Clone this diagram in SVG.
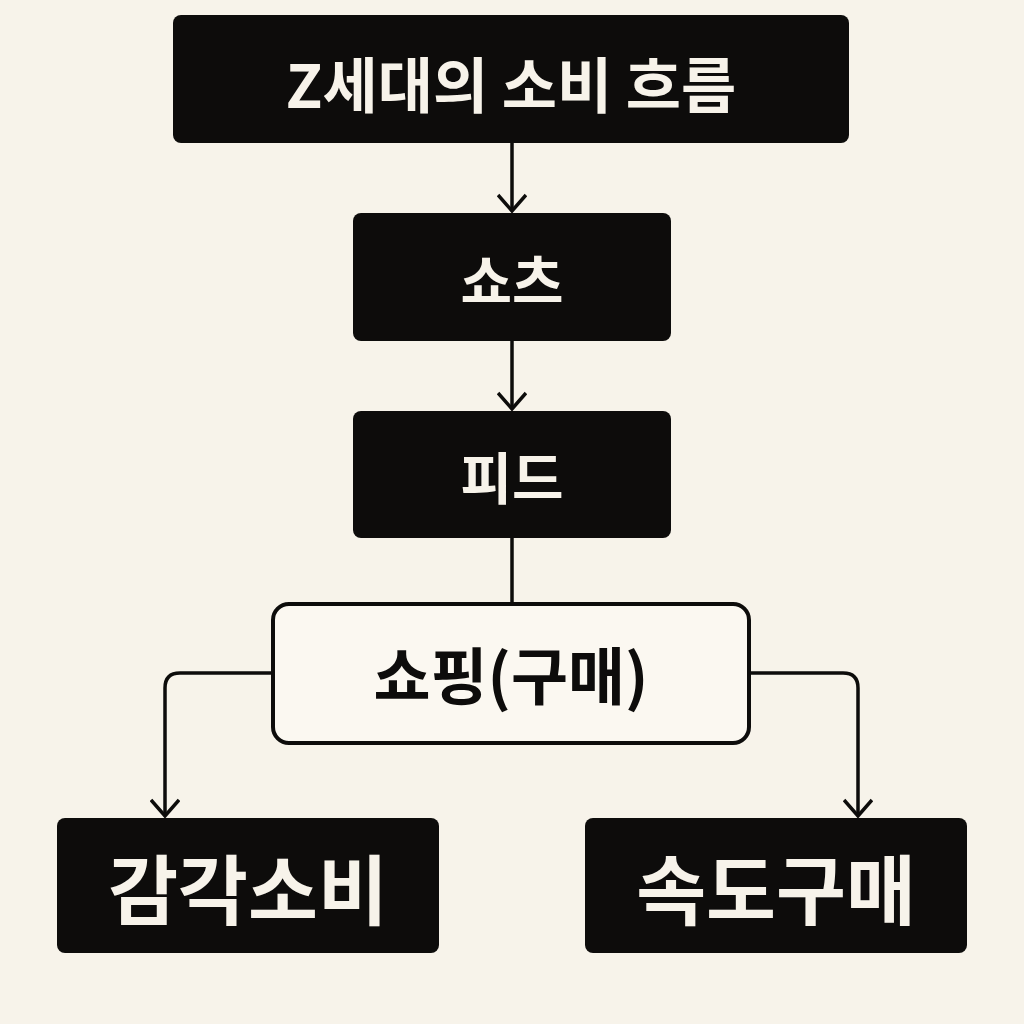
<svg xmlns="http://www.w3.org/2000/svg" width="1024" height="1024" viewBox="0 0 1024 1024">
<style>
.dark{fill:#0d0c0b}
.wt{fill:#f7f3ea;font-family:"Noto Sans CJK KR","Noto Sans",sans-serif;font-weight:700;text-anchor:middle;dominant-baseline:central}
.bt{fill:#0d0c0b;font-family:"Noto Sans CJK KR","Noto Sans",sans-serif;font-weight:700;text-anchor:middle;dominant-baseline:central}
.ln{fill:none;stroke:#0d0c0b;stroke-width:3.5}
</style>
<defs>
<marker id="arr" viewBox="0 0 20 30" refX="18" refY="15" markerWidth="20" markerHeight="30" markerUnits="userSpaceOnUse" orient="auto">
<polyline points="2,1 18,15 2,29" fill="none" stroke="#0d0c0b" stroke-width="3.5"/>
</marker>
</defs>
<rect width="1024" height="1024" fill="#f7f3ea"/>
<g id="connectors">
<line class="ln" x1="512" y1="143" x2="512" y2="211" marker-end="url(#arr)"/>
<line class="ln" x1="512" y1="341" x2="512" y2="409" marker-end="url(#arr)"/>
<line class="ln" x1="512" y1="538" x2="512" y2="604"/>
<path class="ln" d="M273,673 H180 Q165,673 165,688 V816" marker-end="url(#arr)"/>
<path class="ln" d="M749,673 H843 Q858,673 858,688 V816" marker-end="url(#arr)"/>
</g>
<g id="title"><rect class="dark" x="173" y="15" width="676" height="128" rx="8"/><text class="wt" x="511" y="81" font-size="60">Z세대의 소비 흐름</text></g>
<g id="shorts"><rect class="dark" x="353" y="213" width="318" height="128" rx="8"/><text class="wt" x="512" y="277" font-size="56">쇼츠</text></g>
<g id="feed"><rect class="dark" x="353" y="411" width="318" height="127" rx="8"/><text class="wt" x="512" y="474" font-size="56">피드</text></g>
<g id="shopping"><rect x="273" y="604" width="476" height="139" rx="16" fill="#fbf8f1" stroke="#0d0c0b" stroke-width="4"/><text class="bt" x="511" y="673" font-size="62">쇼핑(구매)</text></g>
<g id="sense"><rect class="dark" x="57" y="818" width="382" height="135" rx="8"/><text class="wt" x="248" y="886" font-size="76">감각소비</text></g>
<g id="speed"><rect class="dark" x="585" y="818" width="382" height="135" rx="8"/><text class="wt" x="776" y="886" font-size="76">속도구매</text></g>
</svg>
